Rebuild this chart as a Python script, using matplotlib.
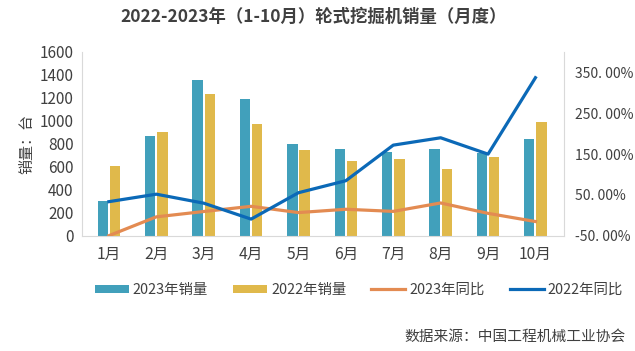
import numpy as np
import matplotlib.pyplot as plt
from matplotlib.ticker import FuncFormatter

plt.rcParams['font.family'] = ['Noto Sans CJK SC', 'DejaVu Sans']

# data
months = ['1月', '2月', '3月', '4月', '5月', '6月', '7月', '8月', '9月', '10月']
sales_2023 = [307, 870, 1357, 1188, 797, 754, 733, 757, 725, 846]
sales_2022 = [609, 901, 1238, 971, 745, 655, 667, 580, 690, 994]
yoy_2023 = [-49.5, -3.5, 9.6, 22.3, 7.0, 15.1, 9.9, 30.5, 5.1, -14.9]
yoy_2022 = [33.7, 52.0, 30.0, -9.0, 55.6, 85.0, 172.0, 190.0, 150.0, 337.0]

c_bar23 = '#41a0bb'
c_bar22 = '#e0b94b'
c_line23 = '#e38b52'
c_line22 = '#0b69b7'
grey = '#d9d9d9'
txt = '#404040'

fig = plt.figure(figsize=(6.35, 3.51), dpi=100)
ax = fig.add_axes([0.129, 0.328, 0.759, 0.524])
ax2 = ax.twinx()

x = np.arange(len(months))
w = 0.22
b1 = ax.bar(x - 0.13, sales_2023, w, color=c_bar23, label='2023年销量', zorder=2)
b2 = ax.bar(x + 0.13, sales_2022, w, color=c_bar22, label='2022年销量', zorder=2)

l1, = ax2.plot(x, np.array(yoy_2023) / 100, color=c_line23, lw=2.3, label='2023年同比')
l2, = ax2.plot(x, np.array(yoy_2022) / 100, color=c_line22, lw=2.3, label='2022年同比')

ax.set_xlim(-0.57, 9.6)
ax.set_ylim(0, 1600)
ax.set_yticks(range(0, 1601, 200))
ax.set_xticks(x)
ax.set_xticklabels(months)
ax2.set_ylim(-0.5, 4.0)
ax2.set_yticks([-0.5, 0.5, 1.5, 2.5, 3.5])
ax2.yaxis.set_major_formatter(FuncFormatter(lambda v, p: f"{v*100:.2f}%".replace('.', '. ')))

for a in (ax, ax2):
    a.tick_params(length=0, colors=txt)
    for s in a.spines.values():
        s.set_visible(False)
ax.spines['left'].set_visible(True)
ax.spines['left'].set_color(grey)
ax.spines['bottom'].set_visible(True)
ax.spines['bottom'].set_color(grey)
ax2.spines['right'].set_visible(True)
ax2.spines['right'].set_color(grey)
ax.tick_params(axis='x', pad=7, labelsize=11.3)
ax.tick_params(axis='y', pad=6, labelsize=11)
ax2.tick_params(axis='y', pad=8, labelsize=10)

ax.set_ylabel('销量：台', fontsize=10.8, color=txt, labelpad=4)

fig.text(0.494, 0.952, '2022-2023年（1-10月）轮式挖掘机销量（月度）',
         ha='center', va='center', fontsize=12.5, fontweight='bold', color=txt)

fig.legend(handles=[b1, b2, l1, l2], loc='center', bbox_to_anchor=(0.565, 0.174),
           ncol=4, frameon=False, fontsize=10.4, handlelength=2.35, handleheight=0.5,
           columnspacing=1.74, handletextpad=0.28, labelcolor=txt)

fig.text(0.985, 0.04, '数据来源：中国工程机械工业协会', ha='right', va='center',
         fontsize=10.6, color=txt)

fig.savefig('out.png', dpi=100, facecolor='white')
